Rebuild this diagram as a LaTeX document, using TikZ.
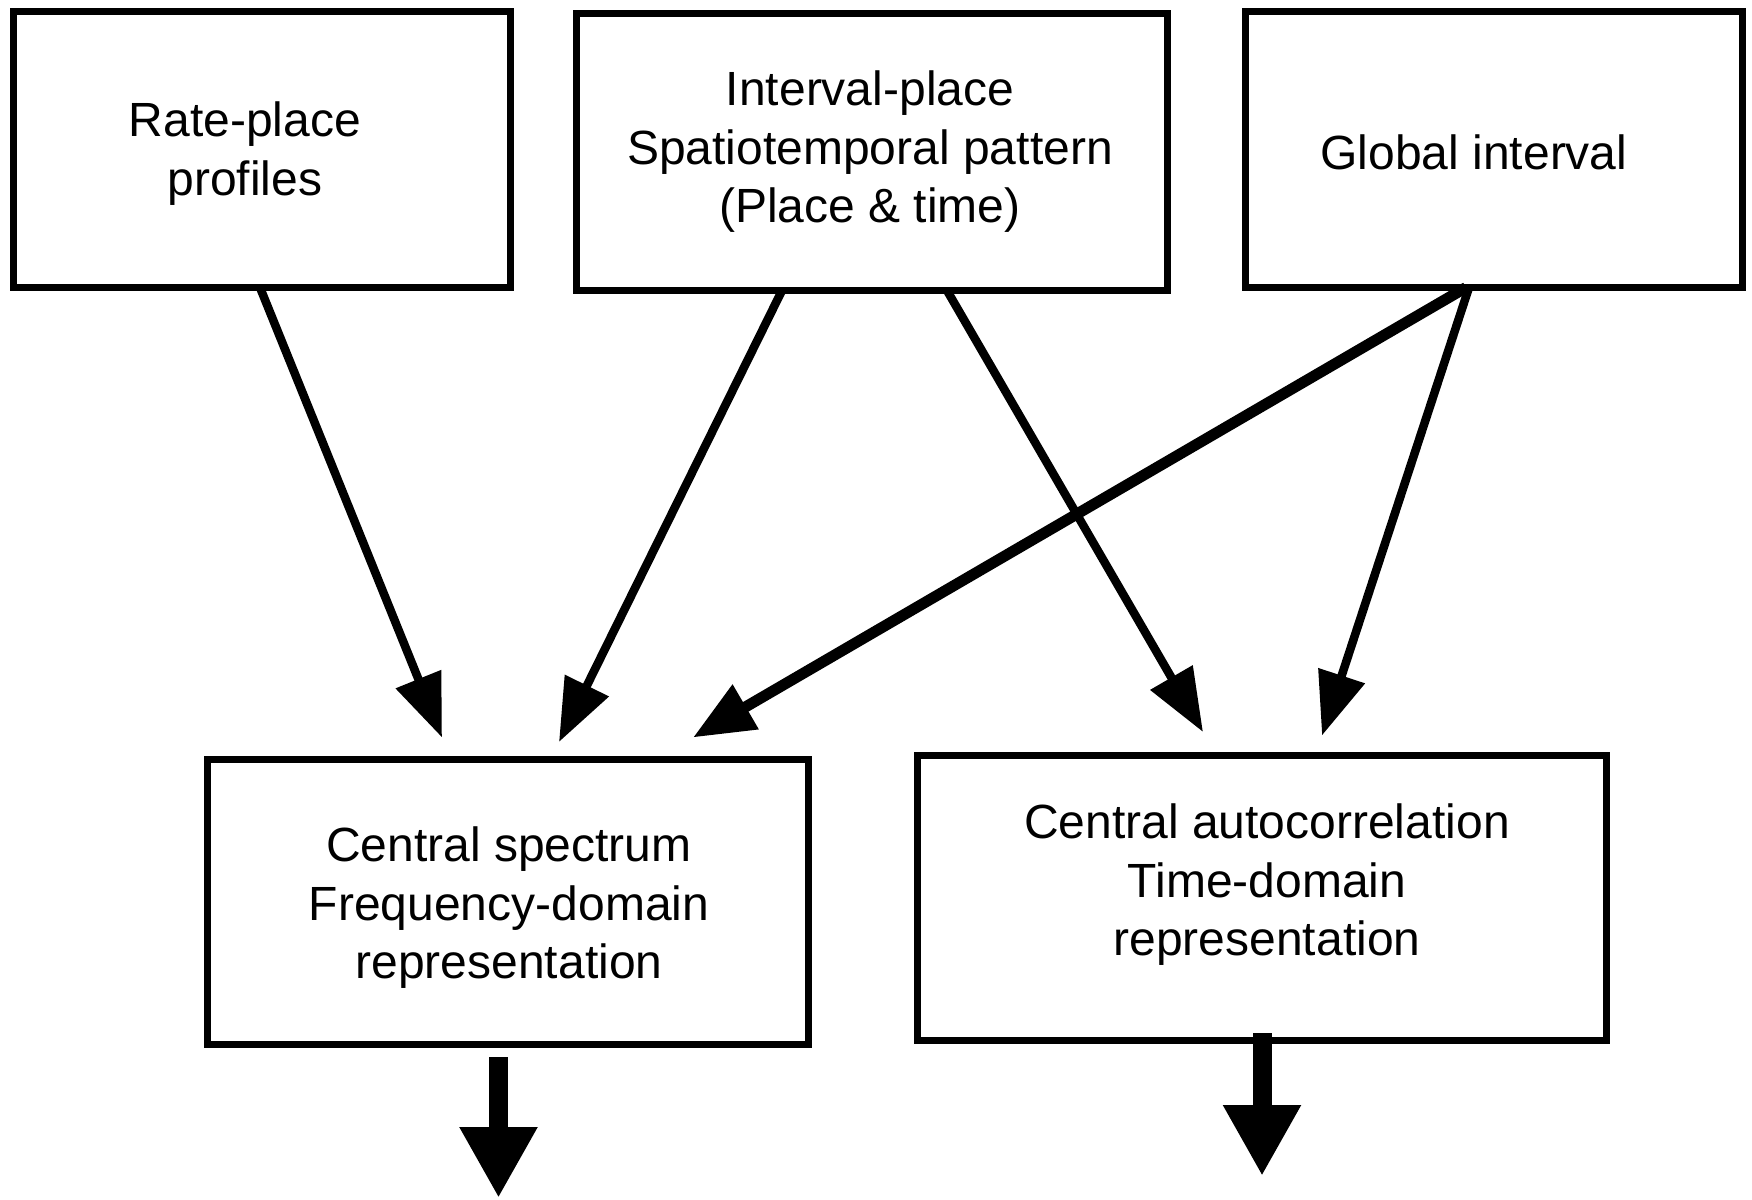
\documentclass[tikz,border=0pt]{standalone}
\usepackage{fontspec}
\setmainfont{Liberation Sans}
\usetikzlibrary{arrows.meta}

\tikzset{
  box/.style={draw, line width=7pt, inner sep=0pt, outer sep=0pt},
  txt/.style={align=center, inner sep=0pt, font=\fontsize{48}{58.5}\selectfont},
  flow/.style={line width=8.5pt, -{Triangle[length=63pt, width=47pt]}},
  flowbold/.style={line width=11pt, -{Triangle[length=61pt, width=49pt]}},
  outflow/.style={line width=19pt, -{Triangle[length=71pt, width=73pt]}}
}

\begin{document}
\begin{tikzpicture}[x=1pt, y=-1pt]
\useasboundingbox (0,0) rectangle (1752,1199);

% upper row of representations
\node[box, minimum width=497pt, minimum height=276pt] (b1) at (262,149.5) {};
\node[box, minimum width=591pt, minimum height=277pt] (b2) at (872,152) {};
\node[box, minimum width=497pt, minimum height=276pt] (b3) at (1494,149.5) {};

% lower row: central representations
\node[box, minimum width=601pt, minimum height=285pt] (b4) at (508,902) {};
\node[box, minimum width=689pt, minimum height=285pt] (b5) at (1262,898) {};

% box texts
\node[txt] (t1) at (245,153.5) {Rate-place\\profiles};
\node[txt] (t2) at (870,152) {Interval-place\\Spatiotemporal pattern\\(Place \& time)};
\node[txt] (t3) at (1474,152) {Global interval};
\node[txt] (t4) at (509,908) {Central spectrum\\Frequency-domain\\representation};
\node[txt] (t5) at (1267,885) {Central autocorrelation\\Time-domain\\representation};

% free ends of the output arrows
\coordinate (o4) at ([xshift=-9.5pt, yshift=-153.5pt]b4.south);
\coordinate (o5) at ([yshift=-135.5pt]b5.south);

% connectors into the central spectrum
\draw[flow] ([xshift=-2pt]b1.south) -- ([xshift=-66pt, yshift=22pt]b4.north);
\draw[flow] ([xshift=-90pt]b2.south) -- ([xshift=51pt, yshift=17.5pt]b4.north);
\draw[flowbold] ([xshift=-28pt]b3.south) -- ([xshift=185pt, yshift=22pt]b4.north);

% connectors into the central autocorrelation
\draw[flow] ([xshift=75pt]b2.south) -- ([xshift=-59pt, yshift=23.5pt]b5.north);
\draw[flow] ([xshift=-25pt]b3.south) -- ([xshift=60pt, yshift=20pt]b5.north);

% outputs
\draw[outflow] ([xshift=-9.5pt, yshift=-12.5pt]b4.south) -- (o4);
\draw[outflow] ([yshift=7.5pt]b5.south) -- (o5);
\end{tikzpicture}
\end{document}
